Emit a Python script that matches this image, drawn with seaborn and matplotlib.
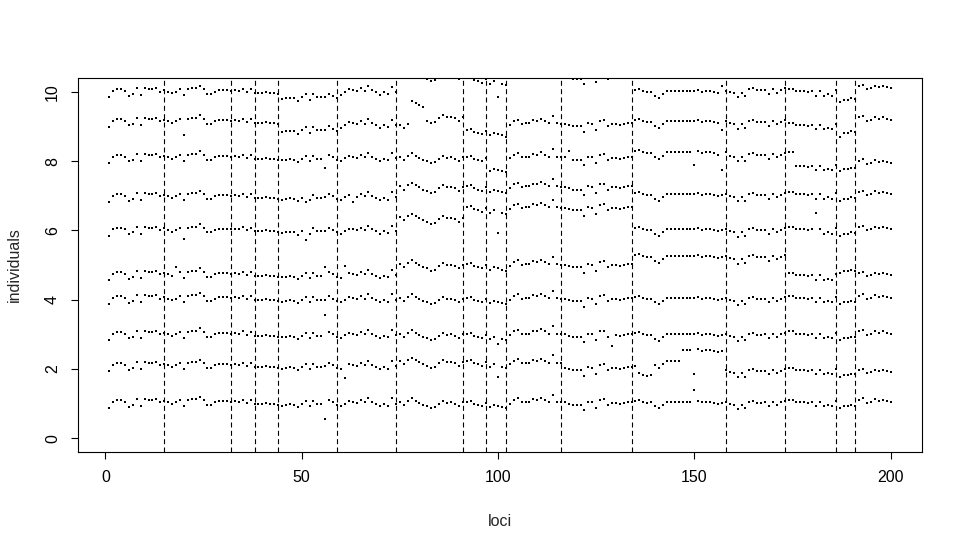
import numpy as np
import pandas as pd
import matplotlib
matplotlib.use('Agg')
import matplotlib.pyplot as plt
import seaborn as sns

# common wiggle per locus, in hundredths
profile = [
    -13, 5, 10, 10, 5, -9, -4, 13, -8, 13, 10, 10, 13, 3, 8, 3, -2, 3, 10, -8,
    10, 13, 13, 20, 10, -4, -4, 3, 7, 7, 7, 5, 7, 5, 11, 2, 10, -1, -1, -1,
    2, -1, -1, -4, -6, -4, -2, -4, -11, -1, 8, -8, 8, -1, -1, 0, 10, 3, -4, -8,
    0, 7, 5, 2, 10, 3, 16, 5, -1, -8, -1, -6, 15, 0, 5, -4, 8, 15, 8, 2,
    -4, -8, -14, -11, -1, 8, 2, 3, -1, -8, 3, 5, 8, -1, -4, -8, 2, -11, -4, -8,
    -11, -14, 0, 11, 15, 3, 5, 5, 13, 11, 17, 11, 5, 26, 5, 3, 3, -1, -4, -4,
    -4, -20, 5, 3, -14, 11, 13, -4, 2, 2, -1, 2, 5, 5, 8, 11, 5, 2, 3, -8,
    -14, -4, 5, 5, 5, 5, 5, 5, 5, 5, 8, 3, 5, 5, 2, -1, 2, 5, -1, -4,
    -16, -4, -14, 5, 8, 2, 2, 3, -8, 5, -4, 3, 8, 11, 11, 5, 5, 5, 2, 5,
    -8, 5, -8, -4, -8, 8, -14, -8, -8, -4, -6, 11, 15, 2, 5, 13, 8, 11, 8, 5,
]

# level of each individual: (first locus, level)
steps_1 = [(1, 1.0)]
steps_2 = [(1, 2.07), (75, 2.17), (103, 2.13), (117, 2.0), (136, 1.78), (140, 2.18),
           (147, 2.5), (150, 1.8), (151, 2.5), (158, 1.92), (187, 1.9), (192, 1.85)]
steps_3 = [(1, 2.97), (135, 2.95), (159, 2.97)]
steps_4 = [(1, 4.0)]
steps_5 = [(1, 4.7), (75, 4.98), (135, 5.2), (174, 4.65), (187, 4.9), (192, 4.65)]
steps_6 = [(1, 5.98), (75, 6.33), (92, 6.62), (135, 5.98)]
steps_7 = [(1, 6.95), (75, 7.22), (135, 7.0)]
steps_8 = [(1, 8.08), (98, 7.82), (103, 8.08), (135, 8.2), (159, 8.15), (176, 7.82),
           (187, 7.85), (192, 7.9)]
steps_9 = [(1, 9.12), (45, 8.9), (60, 9.05), (75, 9.0), (78, 9.6), (82, 9.25), (92, 8.85),
           (103, 9.05), (135, 9.1), (174, 9.0), (187, 8.9), (192, 9.15)]
steps_10 = [(1, 9.98), (45, 9.85), (60, 10.0), (75, 10.45), (92, 10.35), (103, 10.42),
            (135, 9.97), (159, 10.02), (174, 9.97), (187, 9.85), (192, 10.05)]
steps = [steps_1, steps_2, steps_3, steps_4, steps_5, steps_6, steps_7, steps_8, steps_9, steps_10]

# single odd points: (individual, locus, value)
outliers = [(1, 56, 0.55), (1, 150, 1.39), (2, 61, 1.75), (2, 100, 1.78), (3, 56, 3.55),
            (3, 100, 2.72), (3, 129, 2.66), (5, 18, 4.93), (5, 56, 4.93), (5, 61, 4.98),
            (6, 20, 5.75), (6, 51, 5.73), (6, 100, 5.92), (6, 181, 6.5), (7, 51, 6.82),
            (7, 63, 6.82), (8, 56, 7.79), (8, 118, 8.28), (8, 150, 7.88), (8, 157, 7.74),
            (9, 20, 8.76), (9, 157, 8.9), (9, 187, 8.7), (10, 100, 9.86), (10, 157, 10.17)]

breaks = [15, 32, 38, 44, 59, 74, 91, 97, 102, 116, 134, 158, 173, 186, 191]

loci = np.arange(1, 201)
rows = []
for ind, st in enumerate(steps, start=1):
    starts = [s for s, _ in st]
    levels = [l for _, l in st]
    for k in loci:
        j = np.searchsorted(starts, k, side='right') - 1
        rows.append((k, ind, levels[j] + profile[k - 1] / 100))
df = pd.DataFrame(rows, columns=['locus', 'individual', 'value'])
for ind, k, v in outliers:
    df.loc[(df.individual == ind) & (df.locus == k), 'value'] = v

sns.set_style('white')
plt.rcParams['font.family'] = ['Liberation Sans', 'DejaVu Sans']

fig = plt.figure(figsize=(9.63, 5.5), dpi=100)
ax = fig.add_axes([78 / 963, 98 / 550, 844 / 963, 374 / 550])

sns.scatterplot(data=df, x='locus', y='value', color='black', marker='s', s=3.5,
                linewidth=0, ax=ax, legend=False)
for b in breaks:
    ax.axvline(b, color='black', lw=0.8, linestyle=(0, (4.5, 3)))

ax.set_xlim(-6.96, 207.96)
ax.set_ylim(-0.4, 10.4)
ax.set_xticks([0, 50, 100, 150, 200])
ax.set_yticks([0, 2, 4, 6, 8, 10])
ax.set_yticklabels(['0', '2', '4', '6', '8', '10'], rotation=90, va='center')
ax.tick_params(axis='both', direction='out', length=5, width=0.8, labelsize=11.5,
               bottom=True, left=True, pad=8, colors='black')
for sp in ax.spines.values():
    sp.set_visible(True)
    sp.set_color('black')
    sp.set_linewidth(0.8)

ax.set_xlabel('loci', fontsize=11.5)
ax.set_ylabel('individuals', fontsize=11.5, va='center')
ax.xaxis.set_label_coords(0.5, -0.165)
ax.yaxis.set_label_coords(-0.075, 0.5)

fig.savefig('out.png', dpi=100)
